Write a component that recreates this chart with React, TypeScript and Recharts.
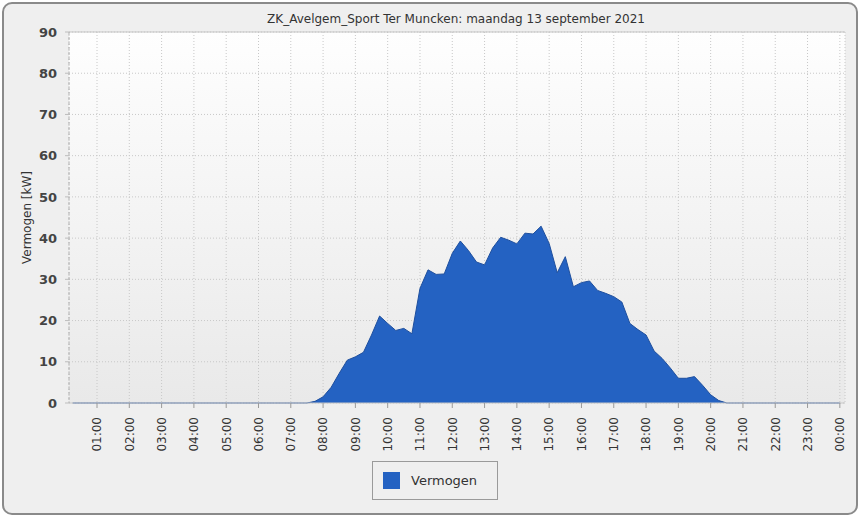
import React from "react";
import {
  AreaChart,
  Area,
  XAxis,
  YAxis,
  CartesianGrid,
  Legend,
  ReferenceLine,
} from "recharts";

const TITLE = "ZK_Avelgem_Sport Ter Muncken: maandag 13 september 2021";
const SERIES_NAME = "Vermogen";

// quarter-hour timestamps (hours) from 00:15 to 24:00
const hours: number[] = [
  0.25, 0.5, 0.75, 1, 1.25, 1.5, 1.75, 2, 2.25, 2.5, 2.75, 3, 3.25, 3.5, 3.75, 4,
  4.25, 4.5, 4.75, 5, 5.25, 5.5, 5.75, 6, 6.25, 6.5, 6.75, 7, 7.25, 7.5, 7.75, 8,
  8.25, 8.5, 8.75, 9, 9.25, 9.5, 9.75, 10, 10.25, 10.5, 10.75, 11, 11.25, 11.5, 11.75, 12,
  12.25, 12.5, 12.75, 13, 13.25, 13.5, 13.75, 14, 14.25, 14.5, 14.75, 15, 15.25, 15.5, 15.75, 16,
  16.25, 16.5, 16.75, 17, 17.25, 17.5, 17.75, 18, 18.25, 18.5, 18.75, 19, 19.25, 19.5, 19.75, 20,
  20.25, 20.5, 20.75, 21, 21.25, 21.5, 21.75, 22, 22.25, 22.5, 22.75, 23, 23.25, 23.5, 23.75, 24,
];

// kW, one value per quarter hour
const vermogen: number[] = [
  0, 0, 0, 0, 0, 0, 0, 0, 0, 0, 0, 0, 0, 0, 0, 0,
  0, 0, 0, 0, 0, 0, 0, 0, 0, 0, 0, 0, 0, 0, 0.4, 1.5,
  3.8, 7.2, 10.4, 11.2, 12.3, 16.5, 21.1, 19.3, 17.6, 18.1, 16.8, 27.8, 32.3, 31.2, 31.3, 36.3,
  39.3, 37.0, 34.2, 33.5, 37.6, 40.2, 39.5, 38.6, 41.2, 41.0, 42.9, 38.7, 31.6, 35.5, 28.2, 29.2,
  29.6, 27.3, 26.6, 25.8, 24.5, 19.3, 17.8, 16.5, 12.6, 10.8, 8.5, 6.0, 6.0, 6.4, 4.3, 2.0,
  0.6, 0, 0, 0, 0, 0, 0, 0, 0, 0, 0, 0, 0, 0, 0, 0,
];

const xTicks: number[] = [1, 2, 3, 4, 5, 6, 7, 8, 9, 10, 11, 12, 13, 14, 15, 16, 17, 18, 19, 20, 21, 22, 23, 24];
const yTicks: number[] = [0, 10, 20, 30, 40, 50, 60, 70, 80, 90];

const data = hours.map((h, i) => ({ t: h, v: vermogen[i] }));

const FONT = "'DejaVu Sans', Verdana, sans-serif";
const FILL = "#2462c2";

const fmtHour = (h: number) => `${String(h % 24).padStart(2, "0")}:00`;

function HourTick({ x, y, payload }: any) {
  return (
    <g transform={`translate(${x},${y + 7}) rotate(-90)`}>
      <text
        textAnchor="end"
        dy="0.36em"
        fontSize={12}
        fontFamily={FONT}
        fill="#333"
      >
        {fmtHour(payload.value)}
      </text>
    </g>
  );
}

function LegendBox() {
  return (
    <div
      style={{
        boxSizing: "border-box",
        width: 126,
        height: 39,
        border: "1px solid #9a9a9a",
        display: "flex",
        alignItems: "center",
        paddingLeft: 10,
        fontFamily: FONT,
        fontSize: 13,
        color: "#333",
      }}
    >
      <span
        style={{
          display: "inline-block",
          width: 17,
          height: 17,
          background: FILL,
          marginRight: 11,
        }}
      />
      {SERIES_NAME}
    </div>
  );
}

export default function App() {
  return (
    <div style={{ position: "absolute", left: 0, top: 0, width: 860, height: 517, background: "#fff" }}>
      <div
        style={{
          position: "absolute",
          left: 2,
          top: 2,
          width: 856,
          height: 513,
          boxSizing: "border-box",
          background: "#efefef",
          border: "2px solid #8a8a8a",
          borderRadius: 10,
        }}
      />
      <div
        style={{
          position: "absolute",
          left: 0,
          top: 18,
          width: 912,
          textAlign: "center",
          fontFamily: FONT,
          fontSize: 12,
          color: "#333",
          lineHeight: "1",
          transform: "translateY(-50%)",
          marginTop: 1,
        }}
      >
        {TITLE}
      </div>
      <div style={{ position: "absolute", left: 0, top: 0 }}>
        <AreaChart
          width={860}
          height={517}
          data={data}
          margin={{ top: 32, right: 15, bottom: 15, left: 9 }}
        >
          <defs>
            <linearGradient id="plotBg" x1="0" y1="0" x2="0" y2="1">
              <stop offset="0%" stopColor="#fefefe" />
              <stop offset="100%" stopColor="#e9e9e9" />
            </linearGradient>
          </defs>
          <CartesianGrid
            fill="url(#plotBg)"
            stroke="#c8c8c8"
            strokeDasharray="1 2"
          />
          <XAxis
            dataKey="t"
            type="number"
            domain={[0.133, 24.16]}
            ticks={xTicks}
            tick={<HourTick />}
            tickLine={{ stroke: "#9a9a9a" }}
            tickSize={5}
            axisLine={{ stroke: "#c8c8c8" }}
            height={60}
            interval={0}
            allowDataOverflow
          />
          <YAxis
            type="number"
            domain={[0, 90]}
            ticks={yTicks}
            width={60}
            tickSize={4}
            tickMargin={8}
            tickLine={{ stroke: "#bdbdbd" }}
            axisLine={{ stroke: "#b0b0b0", strokeDasharray: "3 2" }}
            tick={{ fontSize: 13, fontWeight: "bold", fill: "#444", fontFamily: FONT }}
            label={{
              value: "Vermogen [kW]",
              angle: -90,
              position: "insideLeft",
              offset: 18,
              style: { fontSize: 12, fill: "#333", fontFamily: FONT, textAnchor: "middle" },
            }}
          />
          <ReferenceLine y={90} stroke="#c4c4c4" />
          <Area
            type="linear"
            dataKey="v"
            name={SERIES_NAME}
            stroke="#1e4f9e"
            strokeWidth={1}
            fill={FILL}
            fillOpacity={1}
            isAnimationActive={false}
            dot={false}
            activeDot={false}
          />
          <Legend
            layout="vertical"
            align="center"
            verticalAlign="bottom"
            wrapperStyle={{ left: 372, top: 461, bottom: "auto", width: 126, height: 39 }}
            content={() => <LegendBox />}
          />
        </AreaChart>
      </div>
    </div>
  );
}
